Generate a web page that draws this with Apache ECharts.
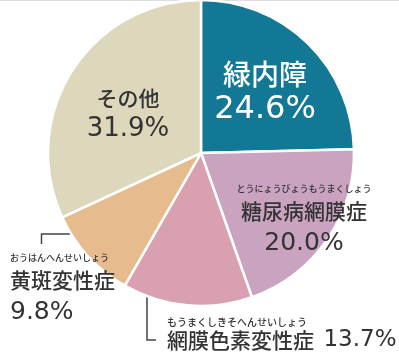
<!DOCTYPE html>
<html>
<head>
<meta charset="utf-8">
<script src="https://cdn.jsdelivr.net/npm/echarts@6/dist/echarts.min.js"></script>
<style>
html,body{margin:0;padding:0;background:#fff;}
#main{width:399px;height:354px;}
</style>
</head>
<body>
<div id="main"></div>
<script>
// 失明原因の割合
var names=["緑内障","糖尿病網膜症","網膜色素変性症","黄斑変性症","その他"];
var values=[24.6,20.0,13.7,9.8,31.9];
var furigana=["","とうにょうびょうもうまくしょう","もうまくしきそへんせいしょう","おうはんへんせいしょう",""];
var colors=["#137896","#c9a3bf","#d9a1af","#e6bb8e","#ddd8bc"];

var font="'Noto Sans CJK JP', 'Noto Sans', sans-serif";
var numFont="'DejaVu Sans', sans-serif";
var dark="#333";

// ラベル位置 (x,y,align)
var labelPos=[
	{x:265,y:57,align:"center"},
	{x:304,y:181,align:"center"},
	{x:167,y:316,align:"left"},
	{x:10,y:250,align:"left"},
	{x:128,y:83,align:"center"}
];

function fmt(p){
	var i=p.dataIndex;
	var v=p.value.toFixed(1)+"%";
	if(i==0) return "{wn|"+p.name+"}\n{wv|"+v+"}";
	if(i==4) return "{dn|"+p.name+"}\n{dv|"+v+"}";
	if(i==2) return "{f2|"+furigana[i]+"}\n{sn|"+p.name+"  }{sv|"+v+"}";
	return "{f|"+furigana[i]+"}\n{n|"+p.name+"}\n{v|"+v+"}";
}

var data=[];
for(var i=0;i<names.length;i++){
	data.push({name:names[i],value:values[i],itemStyle:{color:colors[i]}});
}

var myChart=echarts.init(document.getElementById("main"));
var option={
	animation:false,
	graphic:[
		{type:"line",shape:{x1:0,y1:0.5,x2:399,y2:0.5},style:{stroke:"#ddd",lineWidth:1}},
		{type:"polyline",shape:{points:[[41.5,244],[41.5,234],[88,234]]},style:{stroke:"#444",lineWidth:1.5,fill:null}},
		{type:"polyline",shape:{points:[[147,281],[147,340],[156,340]]},style:{stroke:"#444",lineWidth:1.5,fill:null}}
	],
	series:[{
		type:"pie",
		center:[201,153],
		radius:153,
		startAngle:90,
		clockwise:true,
		itemStyle:{borderColor:"#fff",borderWidth:2.5},
		labelLine:{show:false},
		label:{
			show:true,
			position:"inside",
			formatter:fmt,
			fontFamily:font,
			rich:{
				wn:{fontFamily:font,fontSize:28,fontWeight:500,lineHeight:35,color:"#fff"},
				wv:{fontFamily:numFont,fontSize:32,lineHeight:35,color:"#fff"},
				dn:{fontFamily:font,fontSize:21,fontWeight:500,lineHeight:30,color:dark},
				dv:{fontFamily:numFont,fontSize:26,lineHeight:32,color:dark},
				f:{fontFamily:font,fontSize:9,fontWeight:500,lineHeight:16,color:dark},
				n:{fontFamily:font,fontSize:21,fontWeight:500,lineHeight:28,color:dark},
				v:{fontFamily:numFont,fontSize:25,lineHeight:36,color:dark},
				f2:{fontFamily:font,fontSize:10,fontWeight:500,lineHeight:12,color:dark},
				sn:{fontFamily:font,fontSize:21,fontWeight:500,lineHeight:24,color:dark},
				sv:{fontFamily:numFont,fontSize:23,lineHeight:24,color:dark}
			}
		},
		labelLayout:function(params){
			var p=labelPos[params.dataIndex];
			return {x:p.x,y:p.y,align:p.align,verticalAlign:"top"};
		},
		data:data
	}]
};
myChart.setOption(option);
</script>
</body>
</html>
